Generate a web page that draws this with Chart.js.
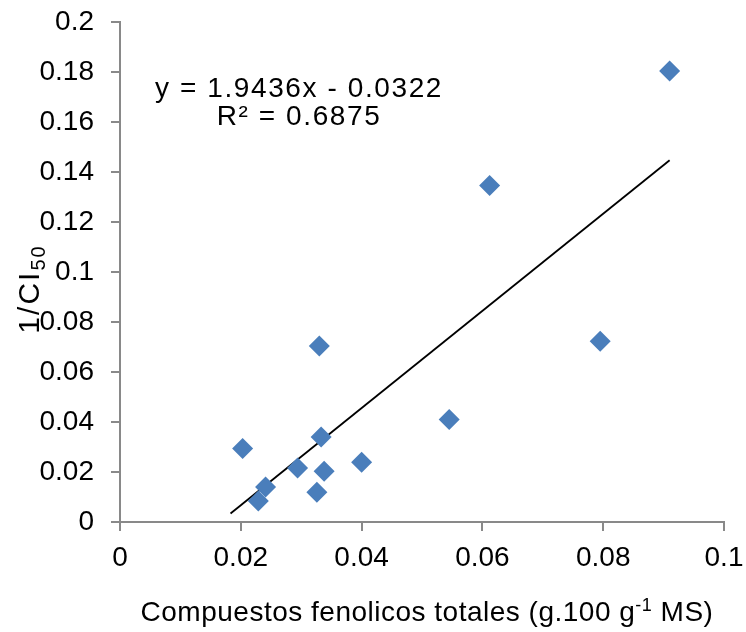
<!DOCTYPE html>
<html>
<head>
<meta charset="utf-8">
<script src="https://cdn.jsdelivr.net/npm/chart.js@4.4.1/dist/chart.umd.min.js"></script>
<style>
  html, body { margin: 0; padding: 0; background: #fff; }
  #wrap { width: 746px; height: 632px; }
</style>
</head>
<body>
<div id="wrap"><canvas id="chart" width="746" height="632"></canvas></div>
<script>
// values
const phenolics = [0.0203, 0.0330, 0.0333, 0.0294, 0.0338, 0.0326, 0.0241, 0.0229, 0.0400, 0.0545, 0.0795, 0.0612, 0.0910];
const inverseIC50 = [0.0294, 0.0704, 0.0340, 0.0216, 0.0203, 0.0119, 0.0140, 0.0084, 0.0239, 0.0410, 0.0723, 0.1346, 0.1804];

// linear trendline end points (y = 1.9436x - 0.0322)
const trendX = [0.0183, 0.0910];
const trendY = [0.0034, 0.1447];

const xTickLabels = ['0', '0.02', '0.04', '0.06', '0.08', '0.1'];
const yTickLabels = ['0', '0.02', '0.04', '0.06', '0.08', '0.1', '0.12', '0.14', '0.16', '0.18', '0.2'];

const equationText = 'y = 1.9436x - 0.0322';
const r2Text = 'R\u00b2 = 0.6875';

const FONT = '"Liberation Sans", Arial, sans-serif';
const AXIS_GRAY = '#898989';

const scatterData = phenolics.map((x, i) => ({ x: x, y: inverseIC50[i] }));
const trendData = trendX.map((x, i) => ({ x: x, y: trendY[i] }));

// draws the axis titles (with sub/superscripts) and the equation label
const extraText = {
  id: 'extraText',
  afterDraw(chart) {
    const ctx = chart.ctx;
    const area = chart.chartArea;
    ctx.save();
    ctx.fillStyle = '#000';
    ctx.textBaseline = 'alphabetic';
    ctx.textAlign = 'left';

    // equation + R²
    ctx.letterSpacing = '1.6px';
    ctx.font = '28px ' + FONT;
    let w = ctx.measureText(equationText).width;
    ctx.fillText(equationText, 299 - w / 2, 97);
    w = ctx.measureText(r2Text).width;
    ctx.fillText(r2Text, 299 - w / 2, 125);

    // x title
    ctx.letterSpacing = '0.5px';
    const main1 = 'Compuestos fenolicos totales (g.100 g';
    const sup = '-1';
    const main2 = ' MS)';
    ctx.font = '28px ' + FONT;
    const w1 = ctx.measureText(main1).width;
    const w3 = ctx.measureText(main2).width;
    ctx.font = '18px ' + FONT;
    const w2 = ctx.measureText(sup).width;
    const total = w1 + w2 + w3;
    let x = (area.left + area.right) / 2 + 5 - total / 2;
    const base = 621;
    ctx.font = '28px ' + FONT;
    ctx.fillText(main1, x, base);
    x += w1;
    ctx.font = '18px ' + FONT;
    ctx.fillText(sup, x, base - 10);
    x += w2;
    ctx.font = '28px ' + FONT;
    ctx.fillText(main2, x, base);

    // y title, rotated
    ctx.letterSpacing = '2px';
    ctx.translate(39, 289);
    ctx.rotate(-Math.PI / 2);
    ctx.font = '30px ' + FONT;
    const m = '1/CI';
    const mw = ctx.measureText(m).width;
    ctx.font = '20px ' + FONT;
    const sw = ctx.measureText('50').width;
    let tx = -(mw + sw) / 2;
    ctx.font = '30px ' + FONT;
    ctx.fillText(m, tx, 0);
    ctx.font = '20px ' + FONT;
    ctx.fillText('50', tx + mw, 6);
    ctx.restore();
  }
};

new Chart(document.getElementById('chart'), {
  type: 'scatter',
  data: {
    datasets: [
      {
        label: 'datos',
        data: scatterData,
        pointStyle: 'rectRot',
        pointRadius: 10.5,
        pointHoverRadius: 10.5,
        backgroundColor: '#4A7EBB',
        borderWidth: 0
      },
      {
        label: 'tendencia',
        type: 'line',
        data: trendData,
        borderColor: '#000',
        borderWidth: 1.8,
        pointRadius: 0,
        fill: false
      }
    ]
  },
  plugins: [extraText],
  options: {
    responsive: false,
    animation: false,
    layout: { padding: { top: 22, right: 22, left: 0, bottom: 0 } },
    plugins: {
      legend: { display: false },
      tooltip: { enabled: false }
    },
    scales: {
      x: {
        type: 'linear',
        min: 0,
        max: 0.1,
        afterFit(scale) {
          scale.height = 110;
          scale.paddingLeft = 0;
          scale.paddingRight = 0;
        },
        afterBuildTicks(scale) {
          scale.ticks = xTickLabels.map(t => ({ value: parseFloat(t) }));
        },
        ticks: {
          color: '#000',
          font: { family: FONT, size: 28 },
          padding: 10,
          maxRotation: 0,
          callback: (v, i) => xTickLabels[i]
        },
        grid: {
          display: true,
          drawOnChartArea: false,
          drawTicks: true,
          tickLength: 9,
          color: AXIS_GRAY,
          lineWidth: 2
        },
        border: { display: true, color: AXIS_GRAY, width: 2 }
      },
      y: {
        type: 'linear',
        min: 0,
        max: 0.2,
        afterFit(scale) {
          scale.width = 120;
          scale.paddingTop = 0;
          scale.paddingBottom = 0;
        },
        afterBuildTicks(scale) {
          scale.ticks = yTickLabels.map(t => ({ value: parseFloat(t) }));
        },
        ticks: {
          color: '#000',
          font: { family: FONT, size: 28 },
          padding: 17,
          callback: (v, i) => yTickLabels[i]
        },
        grid: {
          display: true,
          drawOnChartArea: false,
          drawTicks: true,
          tickLength: 9,
          color: AXIS_GRAY,
          lineWidth: 2
        },
        border: { display: true, color: AXIS_GRAY, width: 2 }
      }
    }
  }
});
</script>
</body>
</html>
